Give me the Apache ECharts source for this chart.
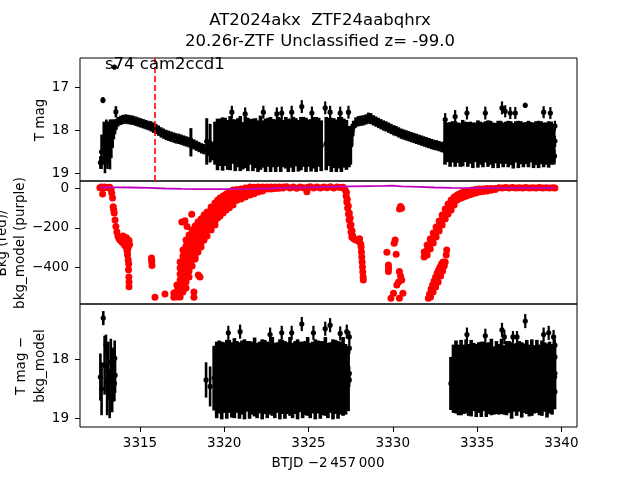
<!DOCTYPE html>
<html><head><meta charset="utf-8">
<script src="https://cdn.jsdelivr.net/npm/echarts@6/dist/echarts.min.js"></script>
<style>html,body{margin:0;padding:0;background:#fff}#c{width:640px;height:480px}</style>
</head><body><div id="c"></div><script>
// ---------------- DATA ----------------
const titleLine1 = 'AT2024akx  ZTF24aabqhrx';
const titleLine2 = '20.26r-ZTF Unclassified z= -99.0';
const sectorLabel = 's74 cam2ccd1';
const sectorStartT = 3315.9;
const xTicks = [3315, 3320, 3325, 3330, 3335, 3340];
const magTicks1 = [17, 18, 19];
const bkgTicks = [0, -200, -400];
const magTicks3 = [18, 19];

// Panel 1: T mag light curve [BTJD, mag, err]
const lcStart = [
 [3312.65,18.75,0.15],[3312.72,18.50,0.40],[3312.80,17.30,0.07],[3312.85,18.30,0.50],
 [3312.92,18.45,0.55],[3313.00,18.25,0.50],[3313.07,18.35,0.55],[3313.14,18.30,0.50],
 [3313.22,18.33,0.58],[3313.30,18.20,0.45],[3313.38,18.08,0.33],[3313.45,17.98,0.23],
 [3313.48,16.53,0.05],[3313.52,17.92,0.17],[3313.57,17.57,0.13],[3313.60,17.86,0.13]
];
const lcSmooth1 = [
 [3313.70,17.80,0.11],[3313.85,17.77,0.11],[3314.00,17.75,0.11],[3314.15,17.74,0.11],
 [3314.30,17.75,0.11],[3314.45,17.76,0.11],[3314.60,17.77,0.11],[3314.75,17.79,0.11],
 [3314.90,17.81,0.11],[3315.05,17.83,0.11],[3315.20,17.85,0.11],[3315.35,17.87,0.11],
 [3315.50,17.89,0.11],[3315.65,17.91,0.12],[3315.80,17.94,0.12],[3315.95,17.97,0.12],
 [3316.10,18.01,0.12],[3316.25,18.05,0.12],[3316.40,18.08,0.12],[3316.55,18.11,0.12],
 [3316.70,18.13,0.12],[3316.85,18.15,0.12],[3317.00,18.17,0.12],[3317.15,18.19,0.12],
 [3317.30,18.20,0.12],[3317.45,18.22,0.12],[3317.60,18.24,0.12],[3317.75,18.26,0.12],
 [3317.90,18.28,0.12],[3318.02,18.28,0.33],[3318.05,18.30,0.12],[3318.20,18.33,0.12],
 [3318.35,18.36,0.12],[3318.50,18.39,0.12],[3318.65,18.42,0.12],[3318.80,18.44,0.12],
 [3318.96,18.26,0.54],[3319.10,18.47,0.13],[3319.16,18.30,0.45],[3319.30,18.50,0.20]
];
const lcNoisy1 = [
 [3319.45,18.30,0.50],[3319.60,18.33,0.60],[3319.75,18.28,0.55],[3319.90,18.32,0.62],
 [3320.05,18.27,0.56],[3320.20,18.34,0.58],[3320.35,18.30,0.63],[3320.50,18.26,0.52],
 [3320.65,18.35,0.60],[3320.80,18.29,0.57],[3320.95,18.31,0.64],[3321.10,18.36,0.55],
 [3321.25,18.28,0.60],[3321.40,18.33,0.62],[3321.55,18.27,0.53],[3321.70,18.34,0.61],
 [3321.85,18.30,0.58],[3322.00,18.37,0.60],[3322.15,18.29,0.63],[3322.30,18.32,0.55],
 [3322.45,18.35,0.62],[3322.60,18.28,0.57],[3322.75,18.33,0.64],[3322.90,18.30,0.56],
 [3323.05,18.36,0.61],[3323.20,18.27,0.58],[3323.35,18.34,0.63],[3323.50,18.31,0.55],
 [3323.65,18.29,0.60],[3323.80,18.35,0.62],[3323.95,18.30,0.57],[3324.10,18.33,0.64],
 [3324.25,18.28,0.56],[3324.40,18.36,0.60],[3324.55,18.31,0.62],[3324.70,18.27,0.58],
 [3324.85,18.34,0.63],[3325.00,18.30,0.55],[3325.15,18.35,0.61],[3325.30,18.29,0.60],
 [3325.45,18.33,0.64],[3325.60,18.28,0.57],[3325.75,18.36,0.59],[3326.05,18.31,0.62],
 [3326.20,18.27,0.56],[3326.35,18.34,0.63],[3326.50,18.30,0.58],[3326.65,18.36,0.61],
 [3326.80,18.29,0.60],[3326.95,18.33,0.64],[3327.10,18.30,0.57],[3327.25,18.34,0.58],
 [3327.40,18.38,0.48]
];
const lcSpikes1 = [
 [3320.45,17.58,0.15],[3321.24,17.62,0.15],[3322.32,17.58,0.15],[3323.12,17.62,0.15],
 [3323.41,17.60,0.15],[3324.00,17.58,0.15],[3324.60,17.45,0.15],[3325.20,17.60,0.15],
 [3325.99,17.48,0.15],[3326.28,17.58,0.15],[3326.88,17.60,0.15],[3327.37,17.58,0.15]
];
const lcSmooth2 = [
 [3327.50,18.35,0.45],[3327.58,18.10,0.25],[3327.66,17.92,0.14],[3327.80,17.82,0.12],
 [3327.95,17.79,0.12],[3328.10,17.78,0.12],[3328.25,17.77,0.12],[3328.40,17.75,0.12],
 [3328.55,17.72,0.13],[3328.70,17.73,0.13],[3328.85,17.77,0.12],[3329.00,17.80,0.12],
 [3329.15,17.83,0.12],[3329.30,17.86,0.12],[3329.45,17.89,0.12],[3329.60,17.91,0.12],
 [3329.75,17.94,0.12],[3329.90,17.97,0.12],[3330.05,18.00,0.12],[3330.20,18.02,0.12],
 [3330.35,18.05,0.12],[3330.50,18.08,0.12],[3330.65,18.10,0.12],[3330.80,18.12,0.12],
 [3330.95,18.14,0.12],[3331.10,18.16,0.12],[3331.25,18.18,0.12],[3331.40,18.20,0.12],
 [3331.55,18.22,0.12],[3331.70,18.24,0.12],[3331.85,18.26,0.12],[3332.00,18.28,0.12],
 [3332.15,18.30,0.12],[3332.30,18.32,0.12],[3332.45,18.34,0.12],[3332.60,18.35,0.12],
 [3332.75,18.37,0.12],[3332.90,18.39,0.12],[3333.02,18.40,0.12]
];
const lcNoisy2 = [
 [3333.10,18.30,0.50],[3333.25,18.28,0.46],[3333.40,18.33,0.52],[3333.55,18.27,0.48],
 [3333.70,18.32,0.53],[3333.85,18.29,0.47],[3334.00,18.34,0.51],[3334.15,18.30,0.54],
 [3334.30,18.27,0.47],[3334.45,18.33,0.52],[3334.60,18.29,0.49],[3334.75,18.35,0.53],
 [3334.90,18.28,0.46],[3335.05,18.32,0.55],[3335.20,18.30,0.50],[3335.35,18.34,0.52],
 [3335.50,18.27,0.48],[3335.65,18.31,0.54],[3335.80,18.29,0.51],[3335.95,18.35,0.53],
 [3336.10,18.30,0.47],[3336.25,18.33,0.55],[3336.40,18.28,0.50],[3336.55,18.34,0.52],
 [3336.70,18.29,0.49],[3336.85,18.32,0.54],[3337.00,18.30,0.51],[3337.15,18.36,0.53],
 [3337.30,18.27,0.48],[3337.45,18.33,0.55],[3337.60,18.29,0.50],[3337.75,18.34,0.52],
 [3337.90,18.30,0.49],[3338.05,18.32,0.54],[3338.20,18.28,0.47],[3338.35,18.35,0.53],
 [3338.50,18.30,0.51],[3338.65,18.33,0.55],[3338.80,18.29,0.50],[3338.95,18.34,0.52],
 [3339.10,18.31,0.49],[3339.25,18.33,0.54],[3339.40,18.30,0.50],[3339.55,18.35,0.45]
];
const lcSpikes2 = [
 [3333.11,17.75,0.15],[3333.70,17.68,0.15],[3334.40,17.60,0.15],[3335.49,17.60,0.15],
 [3336.48,17.48,0.15],[3336.67,17.56,0.14],[3336.97,17.60,0.14],[3337.27,17.60,0.14],
 [3337.86,17.42,0.06],[3338.95,17.58,0.14],[3339.35,17.60,0.14],[3339.62,17.90,0.12],
 [3339.62,18.25,0.12],[3339.60,18.60,0.15]
];

// Panel 2: background flux (red) [BTJD, bkg]
const bkgEarly = [
 [3312.62,3],[3312.70,6],[3312.78,-29],[3312.80,2],[3312.90,6],[3313.00,4],[3313.10,3],
 [3313.20,5],[3313.28,-5],[3313.32,-24],[3313.37,-49],[3313.41,-93],[3313.44,-110],
 [3313.47,-125],[3313.52,-160],[3313.57,-194],[3313.63,-221],[3313.69,-241],[3313.75,-253],
 [3313.81,-262],[3313.90,-269],[3313.99,-277],[3314.08,-282],[3314.14,-292],[3314.00,-241],
 [3314.20,-250],[3314.35,-265],[3314.38,-285],[3314.30,-300],[3314.10,-290],[3314.25,-320],
 [3314.22,-312],[3314.26,-338],[3314.30,-363],[3314.33,-383],[3314.32,-413],[3314.34,-449],
 [3314.35,-474],[3314.35,-498]
];
const bkgIsolated = [
 [3315.68,-353],[3315.69,-363],[3315.70,-373],[3315.71,-391],[3315.89,-552],[3316.48,-535],
 [3317.14,-545],[3317.48,-171],[3317.67,-164],[3318.07,-132],[3317.79,-194],[3318.46,-439],
 [3318.56,-449],[3318.20,-525],[3318.20,-552]
];
const bkgRecovery1 = [
 [3317.01,-530],[3317.01,-552],
 [3317.19,-490],[3317.19,-520],[3317.19,-550],
 [3317.38,-373],[3317.38,-404],[3317.38,-434],[3317.38,-464],[3317.38,-495],[3317.38,-525],[3317.38,-550],
 [3317.55,-312],[3317.55,-343],[3317.55,-373],[3317.55,-404],[3317.55,-434],[3317.55,-464],[3317.55,-495],[3317.55,-525],
 [3317.73,-262],[3317.73,-292],[3317.73,-322],[3317.73,-353],[3317.73,-383],[3317.73,-414],[3317.73,-444],[3317.73,-474],[3317.73,-505],
 [3317.91,-236],[3317.91,-267],[3317.91,-297],[3317.91,-327],[3317.91,-358],[3317.91,-388],[3317.91,-419],[3317.91,-449],
 [3318.09,-211],[3318.09,-241],[3318.09,-272],[3318.09,-302],[3318.09,-333],[3318.09,-363],[3318.09,-393],
 [3318.27,-191],[3318.27,-221],[3318.27,-252],[3318.27,-282],[3318.27,-312],[3318.27,-343],[3318.27,-358],
 [3318.44,-171],[3318.44,-201],[3318.44,-231],[3318.44,-262],[3318.44,-292],[3318.44,-322],
 [3318.62,-155],[3318.62,-186],[3318.62,-216],[3318.62,-247],[3318.62,-277],[3318.62,-297],
 [3318.80,-135],[3318.80,-165],[3318.80,-196],[3318.80,-226],[3318.80,-262],
 [3318.98,-120],[3318.98,-150],[3318.98,-181],[3318.98,-211],[3318.98,-241],
 [3319.22,-95],[3319.22,-125],[3319.22,-155],[3319.22,-186],[3319.22,-211],
 [3319.45,-74],[3319.45,-105],[3319.45,-135],[3319.45,-165],[3319.45,-186],
 [3319.60,-60],[3319.60,-92],[3319.60,-122],[3319.60,-150],
 [3319.75,-49],[3319.75,-79],[3319.75,-110],[3319.75,-140],
 [3319.93,-39],[3319.93,-69],[3319.93,-100],[3319.93,-125],
 [3320.11,-29],[3320.11,-59],[3320.11,-90],[3320.11,-110],
 [3320.30,-19],[3320.30,-49],[3320.30,-79],[3320.30,-98],
 [3320.52,-9],[3320.52,-39],[3320.52,-69],[3320.52,-85],
 [3320.75,-6],[3320.75,-34],[3320.75,-60],
 [3321.00,-4],[3321.00,-29],[3321.00,-54],
 [3321.25,2],[3321.25,-20],[3321.25,-44],
 [3321.53,7],[3321.53,-14],[3321.53,-34],
 [3321.77,5],[3321.77,-12],[3321.77,-27],
 [3322.01,7],[3322.01,-9],[3322.01,-19],
 [3322.27,6],[3322.27,-6],[3322.27,-14],
 [3322.54,7],[3322.54,-4],[3322.78,6],[3322.78,-3],
 [3323.02,7],[3323.02,-1],[3323.25,6],[3323.25,0],[3323.49,7],[3323.49,2]
];
const bkgQuiet = [
 [3323.70,8],[3323.90,2],[3324.10,6],[3324.30,0],[3324.50,7],[3324.70,3],[3324.90,-17],
 [3324.95,5],[3325.10,8],[3325.30,2],[3325.50,6],[3325.70,1],[3325.90,7],[3326.10,3],
 [3326.30,8],[3326.50,2],[3326.70,6],[3326.90,4],[3327.05,5]
];
const bkgDrop = [
 [3327.17,-9],[3327.23,-39],[3327.27,-69],[3327.32,-100],[3327.37,-130],[3327.41,-160],
 [3327.47,-191],[3327.52,-221],[3327.57,-247],[3327.64,-252],[3327.71,-257],[3327.80,-262],
 [3327.89,-262],[3328.00,-270],[3328.03,-255],[3328.10,-282],[3328.12,-297],[3328.14,-322],
 [3328.16,-348],[3328.18,-373],[3328.20,-398],[3328.22,-424],[3328.24,-449],[3328.25,-464],
 [3327.25,-20],[3327.30,-55],[3327.36,-90],[3327.42,-125],[3327.47,-150],[3327.52,-185],
 [3327.58,-215],[3327.62,-240]
];
const bkgScatter = [
 [3330.52,-101],[3330.40,-105],[3330.46,-92],[3330.08,-278],[3330.14,-262],[3329.65,-324],
 [3330.20,-334],[3329.74,-388],[3329.74,-422],[3329.75,-405],[3330.39,-422],[3330.53,-464],
 [3330.46,-444],[3330.34,-474],[3330.24,-490],[3330.04,-532],[3329.89,-557],[3330.39,-557],
 [3330.60,-532]
];
const bkgRecovery2 = [
 [3332.11,-557],[3332.18,-535],[3332.27,-510],[3332.36,-490],[3332.45,-469],[3332.54,-449],
 [3332.63,-429],[3332.72,-414],[3332.80,-398],[3332.89,-383],[3332.98,-373],[3332.24,-550],
 [3332.39,-525],[3332.54,-500],[3332.69,-474],[3332.84,-444],[3332.96,-419],[3333.05,-393],
 [3333.20,-312],[3333.17,-338],[3333.11,-373],
 [3331.86,-322],[3331.86,-348],
 [3332.04,-287],[3332.04,-312],[3332.04,-338],
 [3332.22,-257],[3332.22,-282],[3332.22,-307],
 [3332.40,-226],[3332.40,-252],[3332.40,-277],
 [3332.57,-196],[3332.57,-221],[3332.57,-247],
 [3332.75,-165],[3332.75,-191],[3332.75,-216],
 [3332.93,-135],[3332.93,-160],[3332.93,-186],
 [3333.11,-105],[3333.11,-130],[3333.11,-155],
 [3333.28,-79],[3333.28,-105],[3333.28,-130],
 [3333.46,-59],[3333.46,-85],[3333.46,-110],
 [3333.64,-44],[3333.64,-69],[3333.64,-85],
 [3333.82,-34],[3333.82,-59],[3333.94,-29],[3333.94,-52],
 [3334.06,-24],[3334.06,-49],[3334.20,-19],[3334.20,-44],
 [3334.35,-14],[3334.35,-39],[3334.53,-12],[3334.53,-34],
 [3334.71,-9],[3334.71,-29],[3334.92,-6],[3334.92,-24],
 [3335.13,-4],[3335.13,-19],[3335.36,-3],[3335.36,-16],
 [3335.60,-1],[3335.60,-14],[3335.84,-1],[3335.84,-10],
 [3336.08,-1],[3336.08,-6],
 [3336.30,3],[3336.50,1],[3336.70,4],[3336.90,2],[3337.10,4],[3337.30,1],[3337.50,3],
 [3337.70,2],[3337.90,4],[3338.10,1],[3338.30,3],[3338.50,2],[3338.70,4],[3338.90,1],
 [3339.10,3],[3339.30,2],[3339.50,3],[3339.62,2]
];
// Panel 2: background model (purple)
const bkgModel = [
 [3312.62,5],[3313.50,5],[3314.50,4],[3315.50,2],[3316.50,-1],[3317.50,-3],[3318.50,-4],
 [3319.50,-4],[3320.50,-4],[3321.50,-3],[3322.50,-1],[3323.50,2],[3324.50,4],[3325.50,6],
 [3326.50,8],[3327.00,9],[3327.50,10],[3328.50,11],[3329.50,12],[3330.00,14],[3330.50,10],
 [3331.50,7],[3332.50,4],[3333.50,2],[3334.50,1],[3335.50,1],[3336.50,1],[3337.50,2],
 [3338.50,2],[3339.62,2]
];

// Panel 3: T mag - bkg_model [BTJD, mag, err]
const resStart = [
 [3312.65,18.30,0.40],[3312.72,18.50,0.45],[3312.82,17.30,0.12],[3312.90,18.10,0.50],
 [3312.98,17.75,0.17],[3313.05,18.40,0.55],[3313.12,18.20,0.50],[3313.20,18.60,0.40],
 [3313.27,18.05,0.40],[3313.35,18.35,0.55],[3313.42,18.27,0.45],[3313.50,17.98,0.30],
 [3313.48,18.41,0.30],[3313.52,18.27,0.30],[3318.92,18.35,0.30],[3319.16,18.46,0.34]
];
const resNoisy1 = [
 [3319.40,18.32,0.55],[3319.55,18.35,0.65],[3319.70,18.30,0.62],[3319.85,18.36,0.66],
 [3320.00,18.31,0.60],[3320.15,18.34,0.67],[3320.30,18.29,0.62],[3320.45,18.35,0.64],
 [3320.60,18.32,0.68],[3320.75,18.30,0.61],[3320.90,18.36,0.65],[3321.05,18.31,0.63],
 [3321.20,18.34,0.68],[3321.35,18.29,0.60],[3321.50,18.35,0.66],[3321.65,18.32,0.62],
 [3321.80,18.30,0.67],[3321.95,18.36,0.64],[3322.10,18.31,0.61],[3322.25,18.34,0.68],
 [3322.40,18.30,0.63],[3322.55,18.35,0.65],[3322.70,18.32,0.62],[3322.85,18.29,0.67],
 [3323.00,18.36,0.64],[3323.15,18.31,0.60],[3323.30,18.34,0.68],[3323.45,18.30,0.63],
 [3323.60,18.35,0.66],[3323.75,18.32,0.61],[3323.90,18.29,0.67],[3324.05,18.36,0.64],
 [3324.20,18.31,0.62],[3324.35,18.34,0.68],[3324.50,18.30,0.60],[3324.65,18.35,0.65],
 [3324.80,18.32,0.63],[3324.95,18.29,0.67],[3325.10,18.36,0.64],[3325.25,18.31,0.61],
 [3325.40,18.34,0.68],[3325.55,18.30,0.62],[3325.70,18.35,0.66],[3325.85,18.32,0.63],
 [3326.00,18.29,0.67],[3326.15,18.36,0.64],[3326.30,18.31,0.60],[3326.45,18.34,0.68],
 [3326.60,18.30,0.63],[3326.75,18.35,0.66],[3326.90,18.32,0.62],[3327.05,18.29,0.67],
 [3327.20,18.34,0.60],[3327.35,18.33,0.55]
];
const resSpikes1 = [
 [3320.24,17.55,0.12],[3320.94,17.53,0.12],[3322.72,17.58,0.12],[3323.41,17.55,0.12],
 [3324.00,17.55,0.12],[3324.60,17.40,0.12],[3325.29,17.55,0.12],[3325.99,17.48,0.12],
 [3326.28,17.42,0.12],[3326.88,17.56,0.12],[3327.27,17.53,0.12],[3327.42,17.62,0.10],
 [3327.42,17.81,0.10],[3327.42,18.24,0.12],[3327.42,18.35,0.12]
];
const resNoisy2 = [
 [3333.45,18.41,0.45],[3333.60,18.33,0.58],[3333.75,18.30,0.62],[3333.90,18.35,0.60],
 [3334.05,18.31,0.64],[3334.20,18.34,0.59],[3334.35,18.29,0.63],[3334.50,18.35,0.61],
 [3334.65,18.32,0.65],[3334.80,18.30,0.58],[3334.95,18.36,0.62],[3335.10,18.31,0.60],
 [3335.25,18.34,0.64],[3335.40,18.29,0.59],[3335.55,18.35,0.63],[3335.70,18.32,0.61],
 [3335.85,18.30,0.65],[3336.00,18.36,0.58],[3336.15,18.31,0.62],[3336.30,18.34,0.60],
 [3336.45,18.29,0.64],[3336.60,18.35,0.59],[3336.75,18.32,0.63],[3336.90,18.30,0.61],
 [3337.05,18.36,0.65],[3337.20,18.31,0.58],[3337.35,18.34,0.62],[3337.50,18.29,0.60],
 [3337.65,18.35,0.64],[3337.80,18.32,0.59],[3337.95,18.30,0.63],[3338.10,18.36,0.61],
 [3338.25,18.31,0.65],[3338.40,18.34,0.58],[3338.55,18.29,0.62],[3338.70,18.35,0.60],
 [3338.85,18.32,0.64],[3339.00,18.30,0.59],[3339.15,18.36,0.63],[3339.30,18.31,0.61],
 [3339.45,18.34,0.60],[3339.60,18.30,0.55]
];
const resSpikes2 = [
 [3334.40,17.58,0.12],[3335.49,17.60,0.12],[3336.48,17.50,0.12],[3336.62,17.62,0.12],
 [3337.13,17.62,0.10],[3337.37,17.62,0.10],[3337.86,17.35,0.12],[3338.95,17.58,0.12],
 [3339.25,17.55,0.12],[3339.54,17.62,0.12],[3339.62,17.76,0.10],[3339.62,17.96,0.10],
 [3339.62,18.24,0.10],[3339.62,18.55,0.10]
];

// ---------------- CHART ----------------
const FONT = 'DejaVu Sans';
const chart = echarts.init(document.getElementById('c'), null, {renderer: 'canvas'});
const X_MIN = 3311.44, X_MAX = 3340.93;

function errSeries(data, gi, lw, extra) {
  const s = {
    type: 'custom', xAxisIndex: gi, yAxisIndex: gi, data: data, clip: true,
    encode: {x: 0, y: 1}, silent: true, animation: false,
    renderItem: function (params, api) {
      const t = api.value(0), m = api.value(1), e = api.value(2);
      const a = api.coord([t, m - e]), b = api.coord([t, m + e]), c = api.coord([t, m]);
      return {type: 'group', children: [
        {type: 'line', shape: {x1: a[0], y1: a[1], x2: b[0], y2: b[1]}, style: {stroke: '#000', lineWidth: lw}},
        {type: 'circle', shape: {cx: c[0], cy: c[1], r: 2.6}, style: {fill: '#000'}}
      ]};
    }
  };
  return Object.assign(s, extra || {});
}
function redSeries(data) {
  return {type: 'scatter', xAxisIndex: 1, yAxisIndex: 1, data: data, symbolSize: 7,
    itemStyle: {color: '#ff0000', opacity: 1}, silent: true, animation: false, z: 2};
}

const axisTxt = {color: '#000', fontFamily: FONT, fontSize: 13.5};
function xAx(gi, showLabels) {
  return {type: 'value', gridIndex: gi, min: X_MIN, max: X_MAX,
    axisLine: {show: false}, splitLine: {show: false},
    axisTick: {show: showLabels, length: 5, lineStyle: {color: '#000', width: 1}, customValues: xTicks},
    axisLabel: Object.assign({show: showLabels, margin: 9, customValues: xTicks, formatter: v => String(v)}, axisTxt)};
}
function yAx(gi, min, max, inverse, ticks, fmt) {
  return {type: 'value', gridIndex: gi, min: min, max: max, inverse: inverse,
    axisLine: {show: false}, splitLine: {show: false},
    axisTick: {show: true, length: 5, lineStyle: {color: '#000', width: 1}, customValues: ticks},
    axisLabel: Object.assign({margin: 11, customValues: ticks, formatter: fmt}, axisTxt)};
}
const gridBase = {left: 80, width: 497, height: 123, show: true, borderColor: '#000', borderWidth: 1, backgroundColor: 'transparent'};

const option = {
  backgroundColor: '#fff',
  animation: false,
  grid: [
    Object.assign({top: 58}, gridBase),
    Object.assign({top: 181}, gridBase),
    Object.assign({top: 304}, gridBase)
  ],
  xAxis: [xAx(0, false), xAx(1, false), xAx(2, true)],
  yAxis: [
    yAx(0, 16.32, 19.18, true, magTicks1, v => String(v)),
    yAx(1, -586, 37, false, bkgTicks, v => (v < 0 ? '\u2212' + Math.abs(v) : String(v))),
    yAx(2, 17.06, 19.15, true, magTicks3, v => String(v))
  ],
  series: [
    errSeries(lcStart, 0, 2.6, {markLine: {silent: true, symbol: ['none', 'none'], label: {show: false},
      lineStyle: {color: '#ff0000', type: [6, 3], width: 1.6}, data: [{xAxis: sectorStartT}]}}),
    errSeries(lcSmooth1, 0, 3), errSeries(lcNoisy1, 0, 3.6), errSeries(lcSpikes1, 0, 2.2),
    errSeries(lcSmooth2, 0, 3), errSeries(lcNoisy2, 0, 3.6), errSeries(lcSpikes2, 0, 2.2),
    redSeries(bkgEarly), redSeries(bkgIsolated), redSeries(bkgRecovery1), redSeries(bkgQuiet),
    redSeries(bkgDrop), redSeries(bkgScatter), redSeries(bkgRecovery2),
    {type: 'line', xAxisIndex: 1, yAxisIndex: 1, data: bkgModel, showSymbol: false, symbol: 'none',
      lineStyle: {color: '#bf00bf', width: 1.8}, silent: true, animation: false, z: 5},
    errSeries(resStart, 2, 2.6), errSeries(resNoisy1, 2, 3.6), errSeries(resSpikes1, 2, 2.2),
    errSeries(resNoisy2, 2, 3.6), errSeries(resSpikes2, 2, 2.2)
  ],
  graphic: [
    {type: 'text', x: 320, y: 21, style: {text: titleLine1, fontFamily: FONT, fontSize: 16.5, fill: '#000', textAlign: 'center', textVerticalAlign: 'middle'}},
    {type: 'text', x: 320, y: 42, style: {text: titleLine2, fontFamily: FONT, fontSize: 16.5, fill: '#000', textAlign: 'center', textVerticalAlign: 'middle'}},
    {type: 'text', x: 105, y: 65, z: 10, style: {text: sectorLabel, fontFamily: FONT, fontSize: 16.5, fill: '#000', textAlign: 'left', textVerticalAlign: 'middle'}},
    {type: 'text', x: 328, y: 463, style: {text: 'BTJD \u22122\u2009457\u2009000', fontFamily: FONT, fontSize: 13.5, fill: '#000', textAlign: 'center', textVerticalAlign: 'middle'}},
    {type: 'text', x: 40, y: 120, rotation: Math.PI / 2, style: {text: 'T mag', fontFamily: FONT, fontSize: 13.5, fill: '#000', textAlign: 'center', textVerticalAlign: 'middle'}},
    {type: 'text', x: 2, y: 243, rotation: Math.PI / 2, style: {text: 'Bkg (red)/', fontFamily: FONT, fontSize: 13.5, fill: '#000', textAlign: 'center', textVerticalAlign: 'middle'}},
    {type: 'text', x: 20, y: 243, rotation: Math.PI / 2, style: {text: 'bkg_model (purple)', fontFamily: FONT, fontSize: 13.5, fill: '#000', textAlign: 'center', textVerticalAlign: 'middle'}},
    {type: 'text', x: 21, y: 366, rotation: Math.PI / 2, style: {text: 'T mag \u2212', fontFamily: FONT, fontSize: 13.5, fill: '#000', textAlign: 'center', textVerticalAlign: 'middle'}},
    {type: 'text', x: 40, y: 366, rotation: Math.PI / 2, style: {text: 'bkg_model', fontFamily: FONT, fontSize: 13.5, fill: '#000', textAlign: 'center', textVerticalAlign: 'middle'}}
  ]
};
chart.setOption(option);
</script></body></html>
